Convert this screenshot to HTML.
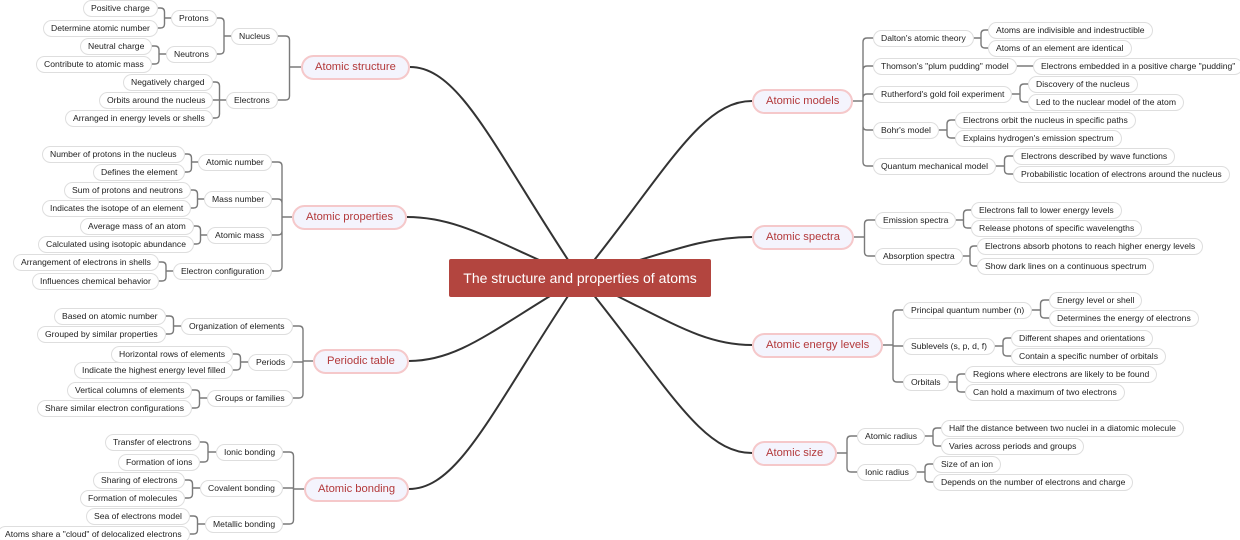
<!DOCTYPE html>
<html><head><meta charset="utf-8">
<style>
html,body{margin:0;padding:0;background:#fff;width:1240px;height:540px;overflow:hidden;font-family:"Liberation Sans",sans-serif}
#c{position:relative;width:1240px;height:540px}
svg{position:absolute;left:0;top:0}
.n{position:absolute;white-space:nowrap;box-sizing:border-box}
.l{font-size:8.6px;height:17px;line-height:15px;padding:0 7px;border:1px solid #dedede;border-radius:9px;background:#fff;color:#222}
.t{font-size:11.2px;height:25px;line-height:21px;padding:0 12px;border:2px solid #f5c8ca;border-radius:13px;background:#f4f4fd;color:#b3393b}
.ctr{left:449px;top:259px;width:262px;height:38px;background:#b3453f;color:#fff;font-size:14px;line-height:38px;text-align:center;border-radius:2px}
</style></head><body><div id="c">
<svg id="s" width="1240" height="540"></svg>
<div class="n ctr">The structure and properties of atoms</div>
</div>
<script>
var L=-1,R=1;
var data=[
[L,410,67,"Atomic structure",[
 [278,36,"Nucleus",[[217,18,"Protons",[[158,8,"Positive charge"],[158,28,"Determine atomic number"]]],[217,54,"Neutrons",[[152,46,"Neutral charge"],[152,64,"Contribute to atomic mass"]]]]],
 [278,100,"Electrons",[[213,82,"Negatively charged"],[213,100,"Orbits around the nucleus"],[213,118,"Arranged in energy levels or shells"]]]]],
[L,407,217,"Atomic properties",[
 [272,162,"Atomic number",[[185,154,"Number of protons in the nucleus"],[185,172,"Defines the element"]]],
 [272,199,"Mass number",[[191,190,"Sum of protons and neutrons"],[191,208,"Indicates the isotope of an element"]]],
 [272,235,"Atomic mass",[[194,226,"Average mass of an atom"],[194,244,"Calculated using isotopic abundance"]]],
 [272,271,"Electron configuration",[[159,262,"Arrangement of electrons in shells"],[159,281,"Influences chemical behavior"]]]]],
[L,409,361,"Periodic table",[
 [293,326,"Organization of elements",[[166,316,"Based on atomic number"],[166,334,"Grouped by similar properties"]]],
 [293,362,"Periods",[[233,354,"Horizontal rows of elements"],[233,370,"Indicate the highest energy level filled"]]],
 [293,398,"Groups or families",[[192,390,"Vertical columns of elements"],[192,408,"Share similar electron configurations"]]]]],
[L,409,489,"Atomic bonding",[
 [283,452,"Ionic bonding",[[200,442,"Transfer of electrons"],[200,462,"Formation of ions"]]],
 [283,488,"Covalent bonding",[[185,480,"Sharing of electrons"],[185,498,"Formation of molecules"]]],
 [283,524,"Metallic bonding",[[190,516,"Sea of electrons model"],[190,534,"Atoms share a \"cloud\" of delocalized electrons"]]]]],
[R,752,101,"Atomic models",[
 [873,38,"Dalton's atomic theory",[[988,30,"Atoms are indivisible and indestructible"],[988,48,"Atoms of an element are identical"]]],
 [873,66,"Thomson's \"plum pudding\" model",[[1033,66,"Electrons embedded in a positive charge \"pudding\""]]],
 [873,94,"Rutherford's gold foil experiment",[[1028,84,"Discovery of the nucleus"],[1028,102,"Led to the nuclear model of the atom"]]],
 [873,130,"Bohr's model",[[955,120,"Electrons orbit the nucleus in specific paths"],[955,138,"Explains hydrogen's emission spectrum"]]],
 [873,166,"Quantum mechanical model",[[1013,156,"Electrons described by wave functions"],[1013,174,"Probabilistic location of electrons around the nucleus"]]]]],
[R,752,237,"Atomic spectra",[
 [875,220,"Emission spectra",[[971,210,"Electrons fall to lower energy levels"],[971,228,"Release photons of specific wavelengths"]]],
 [875,256,"Absorption spectra",[[977,246,"Electrons absorb photons to reach higher energy levels"],[977,266,"Show dark lines on a continuous spectrum"]]]]],
[R,752,345,"Atomic energy levels",[
 [903,310,"Principal quantum number (n)",[[1049,300,"Energy level or shell"],[1049,318,"Determines the energy of electrons"]]],
 [903,346,"Sublevels (s, p, d, f)",[[1011,338,"Different shapes and orientations"],[1011,356,"Contain a specific number of orbitals"]]],
 [903,382,"Orbitals",[[965,374,"Regions where electrons are likely to be found"],[965,392,"Can hold a maximum of two electrons"]]]]],
[R,752,453,"Atomic size",[
 [857,436,"Atomic radius",[[941,428,"Half the distance between two nuclei in a diatomic molecule"],[941,446,"Varies across periods and groups"]]],
 [857,472,"Ionic radius",[[933,464,"Size of an ion"],[933,482,"Depends on the number of electrons and charge"]]]]]
];
var C=document.getElementById('c'),S=document.getElementById('s'),ctr=C.querySelector('.ctr');
var paths=[];
function mk(side,x,y,text,cls){var d=document.createElement('div');d.className='n '+cls;d.textContent=text;C.insertBefore(d,ctr);var w=d.offsetWidth,h=d.offsetHeight;d.style.top=(y-h/2)+'px';d.style.left=(side<0?x-w:x)+'px';return side<0?x-w:x+w;}
function kids(side,outer,py,list){
 if(!list||!list.length)return;
 var ce=list[0][0];var bx=(outer+ce)/2;
 var p='M'+outer+' '+py+' L'+bx+' '+py;
 list.forEach(function(k){
  var o=mk(side,k[0],k[1],k[2],'l');
  var cy=k[1],dy=cy-py,r=Math.min(4,Math.abs(dy));
  if(Math.abs(dy)<0.5){p+=' M'+bx+' '+py+' L'+k[0]+' '+cy;}
  else{var sg=dy>0?1:-1;p+=' M'+bx+' '+py+' L'+bx+' '+(cy-sg*r)+' Q'+bx+' '+cy+' '+(bx+side*r)+' '+cy+' L'+k[0]+' '+cy;}
  kids(side,o,cy,k[3]);
 });
 paths.push('<path d="'+p+'" fill="none" stroke="#7a7a7a" stroke-width="1.4"/>');
}
data.forEach(function(t){
 var side=t[0];var o=mk(side,t[1],t[2],t[3],'t');
 var x1=t[1],y1=t[2],cx=580,cy=278;
 paths.push('<path d="M'+x1+' '+y1+' C'+(x1+(cx-x1)*0.3)+' '+y1+' '+(x1+(cx-x1)*0.5)+' '+(y1+(cy-y1)*0.4)+' '+cx+' '+cy+'" fill="none" stroke="#333" stroke-width="2"/>');
 kids(side,o,y1,t[4]);
});
S.innerHTML=paths.join('');
</script>
</body></html>
